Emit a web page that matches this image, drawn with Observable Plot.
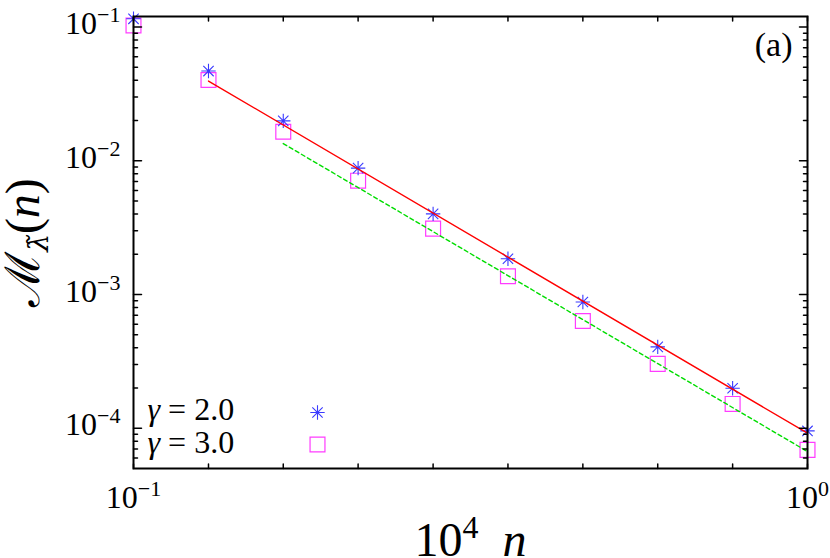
<!DOCTYPE html>
<html><head><meta charset="utf-8">
<script src="https://cdn.jsdelivr.net/npm/d3@7"></script>
<script src="https://cdn.jsdelivr.net/npm/@observablehq/plot@0.6"></script>
<style>
html,body{margin:0;padding:0;background:#fff;}
svg{display:block;}
</style></head><body><div id="chart"></div>
<script>
// ---- data ----
const nValues = [0.1, 0.1292, 0.1668, 0.2154, 0.2783, 0.3594, 0.4642, 0.5995, 0.7743, 1.0];
const mGamma2 = [0.1153, 0.0469, 0.0199, 0.00882, 0.00401, 0.00185, 0.000879, 0.000406, 0.000199, 0.0000955];
const mGamma3 = [0.1028, 0.0402, 0.0165, 0.0071, 0.00311, 0.00137, 0.000634, 0.000303, 0.000152, 0.0000689];
const fitRedN = [0.1292, 1.0];
const fitRedM = [0.0395, 0.0000918];
const fitGreenN = [0.1668, 1.0];
const fitGreenM = [0.01345, 0.0000669];
const seriesLabels = ["2.0", "3.0"];
const xTickValues = nValues;
const xLabelTicks = [0.1, 1];
const xLabelExponents = ["−1", "0"];
const yMajorTicks = [1e-4, 1e-3, 1e-2, 1e-1];
const yTickExponents = ["−4", "−3", "−2", "−1"];
const yMinorTicks = [6e-5, 7e-5, 8e-5, 9e-5,
  2e-4, 3e-4, 4e-4, 5e-4, 6e-4, 7e-4, 8e-4, 9e-4,
  2e-3, 3e-3, 4e-3, 5e-3, 6e-3, 7e-3, 8e-3, 9e-3,
  2e-2, 3e-2, 4e-2, 5e-2, 6e-2, 7e-2, 8e-2, 9e-2];
const panelLabel = "(a)";

// ---- tables ----
const pts2 = nValues.map((n, i) => ({n, m: mGamma2[i]}));
const pts3 = nValues.map((n, i) => ({n, m: mGamma3[i]}));
const redFit = fitRedN.map((n, i) => ({n, m: fitRedM[i]}));
const greenFit = fitGreenN.map((n, i) => ({n, m: fitGreenM[i]}));

const tickShape = {draw(ctx, l) { ctx.moveTo(0, 0); ctx.lineTo(0, -l); }};
const asterisk = {draw(ctx, size) {
  const r = Math.sqrt(size / Math.PI), d = r * 0.72;
  ctx.moveTo(-r, 0); ctx.lineTo(r, 0);
  ctx.moveTo(0, -r); ctx.lineTo(0, r);
  ctx.moveTo(-d, -d); ctx.lineTo(d, d);
  ctx.moveTo(-d, d); ctx.lineTo(d, -d);
}};
const BLUE = "#3a3aff", MAG = "#ff3cff";
const FONT = "Liberation Serif";

const plot = Plot.plot({
  width: 830, height: 558,
  marginLeft: 133, marginRight: 23, marginTop: 16, marginBottom: 90,
  x: {type: "log", domain: [0.1, 1], axis: null},
  y: {type: "log", domain: [5e-5, 0.12], axis: null},
  style: {fontFamily: FONT, fontSize: "32px"},
  marks: [
    Plot.dot(pts3, {x: "n", y: "m", symbol: "square", r: 8.4, stroke: MAG, fill: "none", strokeWidth: 1.2}),
    Plot.dot(pts2, {x: "n", y: "m", symbol: asterisk, r: 7.2, stroke: BLUE, fill: "none", strokeWidth: 1.1}),
    Plot.line(redFit, {x: "n", y: "m", stroke: "#ff0000", strokeWidth: 1.4}),
    Plot.line(greenFit, {x: "n", y: "m", stroke: "#00dd00", strokeWidth: 1.4, strokeDasharray: "4,3"}),
    // inward ticks on all four sides
    Plot.vectorY(yMajorTicks, {y: d => d, frameAnchor: "left", rotate: 90, length: 8, anchor: "start", shape: tickShape, strokeWidth: 1.5}),
    Plot.vectorY(yMinorTicks, {y: d => d, frameAnchor: "left", rotate: 90, length: 4, anchor: "start", shape: tickShape, strokeWidth: 1.5}),
    Plot.vectorY(yMajorTicks, {y: d => d, frameAnchor: "right", rotate: -90, length: 8, anchor: "start", shape: tickShape, strokeWidth: 1.5}),
    Plot.vectorY(yMinorTicks, {y: d => d, frameAnchor: "right", rotate: -90, length: 4, anchor: "start", shape: tickShape, strokeWidth: 1.5}),
    Plot.vectorX(xTickValues, {x: d => d, frameAnchor: "bottom", rotate: 0, length: 4.5, anchor: "start", shape: tickShape, strokeWidth: 1.5}),
    Plot.vectorX(xTickValues, {x: d => d, frameAnchor: "top", rotate: 180, length: 4.5, anchor: "start", shape: tickShape, strokeWidth: 1.5}),
    Plot.frame({stroke: "black", strokeWidth: 2}),
    Plot.axisY({ticks: yMajorTicks, tickSize: 0, tickPadding: 13, dy: -3, label: null, fontSize: 32, fontFamily: FONT,
      tickFormat: d => "§P§" + yTickExponents[yMajorTicks.indexOf(d)]}),
    Plot.axisX({ticks: xLabelTicks, tickSize: 0, tickPadding: 17, label: null, fontSize: 32, fontFamily: FONT,
      tickFormat: d => "§P§" + xLabelExponents[xLabelTicks.indexOf(d)]}),
    // axis titles
    Plot.text(["§YL§"], {frameAnchor: "left", rotate: -90, dx: -110, fontSize: 48, fontFamily: FONT, textAnchor: "middle", lineAnchor: "middle"}),
    Plot.text(["§XL§"], {frameAnchor: "bottom", dy: 72, fontSize: 48, fontFamily: FONT, textAnchor: "middle", lineAnchor: "middle"}),
    // panel label
    Plot.text([panelLabel], {frameAnchor: "top-right", dx: -15, dy: 29, fontSize: 34, fontFamily: FONT, textAnchor: "end", lineAnchor: "middle"}),
    // legend
    Plot.text(["§G§" + seriesLabels[0]], {frameAnchor: "bottom-left", textAnchor: "start", lineAnchor: "middle", dx: 14, dy: -59, fontSize: 32, fontFamily: FONT}),
    Plot.text(["§G§" + seriesLabels[1]], {frameAnchor: "bottom-left", textAnchor: "start", lineAnchor: "middle", dx: 14, dy: -26, fontSize: 32, fontFamily: FONT}),
    Plot.dot([seriesLabels[0]], {x: null, y: null, frameAnchor: "bottom-left", dx: 184, dy: -56, symbol: asterisk, r: 7.2, stroke: BLUE, fill: "none", strokeWidth: 1.1}),
    Plot.dot([seriesLabels[1]], {x: null, y: null, frameAnchor: "bottom-left", dx: 184, dy: -24, symbol: "square", r: 8.4, stroke: MAG, fill: "none", strokeWidth: 1.2})
  ]
});
document.getElementById("chart").appendChild(plot);

// ---- rich text post-processing (superscripts, italics) ----
d3.select(plot).selectAll("text").each(function() {
  const s = this.textContent;
  const t = d3.select(this);
  if (s.startsWith("§P§")) {
    t.text(null);
    t.append("tspan").text("10");
    t.append("tspan").attr("font-size", 22).attr("dy", -12).text(s.slice(3));
  } else if (s === "§YL§") {
    t.text(null);
    t.append("tspan").text("ℳ");
    t.append("tspan").attr("font-size", 28).attr("class", "dv").style("font-style", "italic").attr("dy", 9).text("λ\u0303");
    t.append("tspan").attr("dy", -9).text("(");
    t.append("tspan").style("font-style", "italic").text("n");
    t.append("tspan").text(")");
  } else if (s === "§XL§") {
    t.text(null);
    t.append("tspan").text("10");
    t.append("tspan").attr("font-size", 32).attr("dy", -18).text("4");
    t.append("tspan").attr("dy", 18).text("\u2002");
    t.append("tspan").style("font-style", "italic").text("n");
  } else if (s.startsWith("§G§")) {
    t.text(null);
    t.append("tspan").style("font-style", "italic").text("γ");
    t.append("tspan").text(" = " + s.slice(3));
  }
});
d3.select(plot).selectAll("text, tspan").style("font-family", FONT);
d3.select(plot).selectAll("tspan.dv").style("font-family", "DejaVu Serif");
</script></body></html>
